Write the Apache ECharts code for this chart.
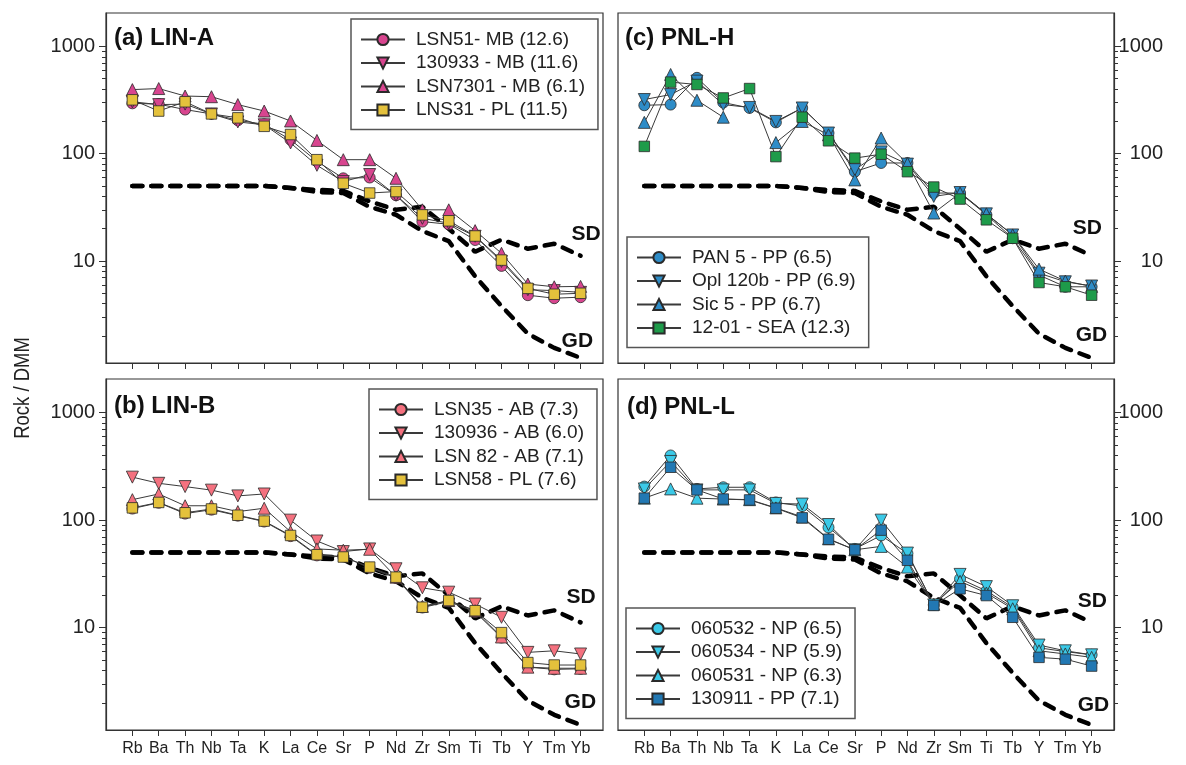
<!DOCTYPE html>
<html><head><meta charset="utf-8">
<script src="https://cdn.jsdelivr.net/npm/echarts@6/dist/echarts.min.js"></script>
<style>html,body{margin:0;padding:0;background:#fff}#c{width:1186px;height:765px}</style>
</head><body><div id="c"></div>
<script>
// ---------------- data ----------------
const categories = ['Rb','Ba','Th','Nb','Ta','K','La','Ce','Sr','P','Nd','Zr','Sm','Ti','Tb','Y','Tm','Yb'];
const yLabelValues = [10, 100, 1000];
const yMinorValues = [2,3,4,5,6,7,8,9,20,30,40,50,60,70,80,90,200,300,400,500,600,700,800,900];

// reference curves
const SD = [50,50,50,50,50,50,48,46,45,36,30,32,20,12.2,15.8,13,14.5,11.2];
const GD = [50,50,50,50,50,50,48,44,43,32,27,19,15.3,7.2,3.8,2.1,1.55,1.25];

// (a) LIN-A
const LSN51_MB   = [295,290,258,235,205,188,135,85,59,60,41,23.3,22,15.7,9.0,4.8,4.5,4.6];
const S130933_MB = [305,287,290,235,198,186,126,78,55,64,41,25,22.5,17,9.9,5.4,5.3,5.1];
const LSN7301_MB = [396,405,345,340,287,250,202,133,88,88,59,30,30,19.2,11.8,6.1,5.75,5.8];
const LNS31_PL   = [318,250,305,235,216,180,151,88,53,43,44.4,26.9,23.7,17.1,10.2,5.56,4.9,5.0];

// (b) LIN-B
const LSN35_AB   = [128,145,115,125,110,97,71,47,46,36,29,15.4,17.5,14,8.1,4.3,4.1,4.15];
const S130936_AB = [251,220,205,190,168,175,100,64,51,54,35.3,23.5,21.4,16.6,12.5,5.9,6.1,5.7];
const LSN82_AB   = [155,175,136,136,120,129,78,54,52.5,53.6,29.5,15.8,17.9,14.4,8.2,4.3,4.2,4.2];
const LSN58_PL   = [130,146,117,127,111,98,72,47.7,45.4,36.6,29.5,15.5,17.9,14.4,9.0,4.74,4.5,4.5];

// (c) PNL-H
const PAN5_PP    = [283,287,510,300,267,196,267,156,68,82,82,43,43,27,16.3,7.4,5.75,5.75];
const OPL120B_PP = [320,356,475,287,270,200,267,156,71,104,80,40,43.5,27.5,17.5,7.7,6.4,5.85];
const SIC5_PP    = [196,548,315,219,null,127,200,150,57,140,81,28,43,27.5,17.5,8.4,6.5,5.8];
const S1201_SEA  = [117,465,442,331,405,94,219,132,91,99,68,48.9,37.8,24.2,16.3,6.3,5.75,4.8];

// (d) PNL-L
const S060532_NP = [205,399,195,202,202,146,135,85.5,54,72,49,16.3,28.5,22,15.5,6.5,6.0,5.6];
const S060534_NP = [195,351,191,191,191,143,141,91,53,100,49.4,16.3,31.3,24.1,16,6.9,6.1,5.6];
const S060531_NP = [160,195,160,157,155,130,107,67,53,57,36.6,16.5,27,21,15,6.1,5.7,5.3];
const S130911_PP = [160,310,191,157,154,129,105,66.4,53,80.7,42.3,16.1,23,19.9,12.5,5.3,5.1,4.4];

// ---------------- styles / layout ----------------
const FONT = "'Liberation Sans', Arial, sans-serif";
const COL = {
  pink: '#d8458f', salmon: '#f4717f', yellow: '#e4c13c',
  blue: '#2e8cc7', green: '#1e9b4a', cyan: '#3bc9e7', dblue: '#2278b3'
};
const SYM = {
  circle: {symbol: 'circle', size: 11, rot: 0},
  down:   {symbol: 'triangle', size: 12, rot: 180},
  up:     {symbol: 'triangle', size: 12, rot: 0},
  square: {symbol: 'rect', size: 10.5, rot: 0}
};
const Y_MIN = 1.12, Y_MAX = 2050;

const panels = [
  { grid: {left: 106, top: 13, width: 497, height: 350}, side: 'left', xLabels: false,
    title: '(a) LIN-A', titlePos: [114, 26], legendPos: {left: 351, top: 19},
    sdOff: [-17, -22], gdOff: [-27, -17],
    series: [
      ['LSN51- MB (12.6)', LSN51_MB, 'circle', COL.pink],
      ['130933 - MB (11.6)', S130933_MB, 'down', COL.pink],
      ['LSN7301 - MB (6.1)', LSN7301_MB, 'up', COL.pink],
      ['LNS31 - PL (11.5)', LNS31_PL, 'square', COL.yellow]
    ]},
  { grid: {left: 106, top: 379, width: 497, height: 351}, side: 'left', xLabels: true,
    title: '(b) LIN-B', titlePos: [114, 394], legendPos: {left: 369, top: 389},
    sdOff: [-22, -25], gdOff: [-24, -23],
    series: [
      ['LSN35 - AB (7.3)', LSN35_AB, 'circle', COL.salmon],
      ['130936 - AB (6.0)', S130936_AB, 'down', COL.salmon],
      ['LSN 82 - AB (7.1)', LSN82_AB, 'up', COL.salmon],
      ['LSN58 - PL (7.6)', LSN58_PL, 'square', COL.yellow]
    ]},
  { grid: {left: 618, top: 13, width: 496, height: 350}, side: 'right', xLabels: false,
    title: '(c) PNL-H', titlePos: [625, 26], legendPos: {left: 627, top: 237},
    sdOff: [-27, -28], gdOff: [-24, -23],
    series: [
      ['PAN 5 - PP (6.5)', PAN5_PP, 'circle', COL.blue],
      ['Opl 120b - PP (6.9)', OPL120B_PP, 'down', COL.blue],
      ['Sic 5 - PP (6.7)', SIC5_PP, 'up', COL.blue],
      ['12-01 - SEA (12.3)', S1201_SEA, 'square', COL.green]
    ]},
  { grid: {left: 618, top: 379, width: 496, height: 351}, side: 'right', xLabels: true,
    title: '(d) PNL-L', titlePos: [627, 395], legendPos: {left: 626, top: 608},
    sdOff: [-22, -21], gdOff: [-22, -20],
    series: [
      ['060532 - NP (6.5)', S060532_NP, 'circle', COL.cyan],
      ['060534 - NP (5.9)', S060534_NP, 'down', COL.cyan],
      ['060531 - NP (6.3)', S060531_NP, 'up', COL.cyan],
      ['130911 - PP (7.1)', S130911_PP, 'square', COL.dblue]
    ]}
];

const toXY = arr => arr.map((v, i) => [i, v == null ? '-' : v]);
const xTicks = categories.map((c, i) => i);

const option = {
  backgroundColor: '#fff',
  animation: false,
  grid: [], xAxis: [], yAxis: [], series: [], legend: [], title: [],
  graphic: [{
    type: 'text', x: 23, y: 388, rotation: Math.PI / 2, scaleX: 0.84,
    style: {text: 'Rock / DMM', fontSize: 22, fontFamily: FONT, fill: '#222',
            align: 'center', verticalAlign: 'middle', textAlign: 'center', textVerticalAlign: 'middle'}
  }]
};

panels.forEach((p, i) => {
  option.grid.push(Object.assign({show: true, borderColor: '#333', borderWidth: 1.2, backgroundColor: 'transparent'}, p.grid));
  option.xAxis.push({
    type: 'value', gridIndex: i, min: -1, max: 17.85,
    axisLine: {show: true, onZero: false, lineStyle: {color: '#333', width: 1.2}},
    axisTick: {show: true, customValues: xTicks, length: 6, lineStyle: {color: '#333'}},
    axisLabel: {show: p.xLabels, customValues: xTicks, formatter: v => categories[Math.round(v)],
                fontSize: 16, fontFamily: FONT, color: '#222', margin: 11},
    splitLine: {show: false}
  });
  const right = p.side === 'right';
  option.yAxis.push({
    type: 'log', logBase: 10, gridIndex: i, min: Y_MIN, max: Y_MAX, position: p.side,
    axisLine: {show: true, onZero: false, lineStyle: {color: '#333', width: 1.2}},
    axisTick: {show: true, customValues: yLabelValues, length: 7, lineStyle: {color: '#333'}},
    axisLabel: {show: true, customValues: yLabelValues, formatter: v => String(Math.round(v)),
                fontSize: 20, fontFamily: FONT, color: '#222',
                margin: right ? 49 : 11, align: 'right'},
    splitLine: {show: false}
  });
  option.yAxis.push({
    type: 'log', logBase: 10, gridIndex: i, min: Y_MIN, max: Y_MAX, position: p.side,
    axisLine: {show: false, onZero: false},
    axisTick: {show: true, customValues: yMinorValues, length: 4, lineStyle: {color: '#333'}},
    axisLabel: {show: false},
    splitLine: {show: false}
  });
  const refStyle = (name, data, off) => ({
    type: 'line', name: name, xAxisIndex: i, yAxisIndex: 2 * i, data: toXY(data),
    symbol: 'none', silent: true, z: 1,
    lineStyle: {color: '#000', width: 4.5, type: [10, 9], cap: 'round'},
    endLabel: {show: true, formatter: name, fontSize: 21, fontWeight: 'bold', fontFamily: FONT,
               color: '#111', offset: off}
  });
  option.series.push(refStyle('SD', SD, p.sdOff));
  option.series.push(refStyle('GD', GD, p.gdOff));
  p.series.forEach(([name, data, sym, color]) => {
    const s = SYM[sym];
    option.series.push({
      type: 'line', name: name, xAxisIndex: i, yAxisIndex: 2 * i, data: toXY(data),
      symbol: s.symbol, symbolSize: s.size, symbolRotate: s.rot, showAllSymbol: true, z: 3,
      connectNulls: false,
      lineStyle: {color: '#3a3a3a', width: 1},
      itemStyle: {color: color, borderColor: '#2a2a2a', borderWidth: 0.8}
    });
  });
  option.legend.push(Object.assign({
    orient: 'vertical', data: p.series.map(s => s[0]),
    itemWidth: 44, itemHeight: 14, itemGap: 4.5,
    padding: [11, 13, 10, 9],
    borderColor: '#555', borderWidth: 1.5, backgroundColor: '#fff',
    textStyle: {fontSize: 19, fontFamily: FONT, color: '#222', padding: [0, 0, 0, 6]},
    selectedMode: false
  }, p.legendPos));
  option.title.push({
    text: p.title, left: p.titlePos[0], top: p.titlePos[1], padding: 0,
    textStyle: {fontSize: 24, fontWeight: 'bold', fontFamily: FONT, color: '#111'}
  });
});

const chart = echarts.init(document.getElementById('c'), null, {renderer: 'canvas'});
chart.setOption(option);
</script>
</body></html>
